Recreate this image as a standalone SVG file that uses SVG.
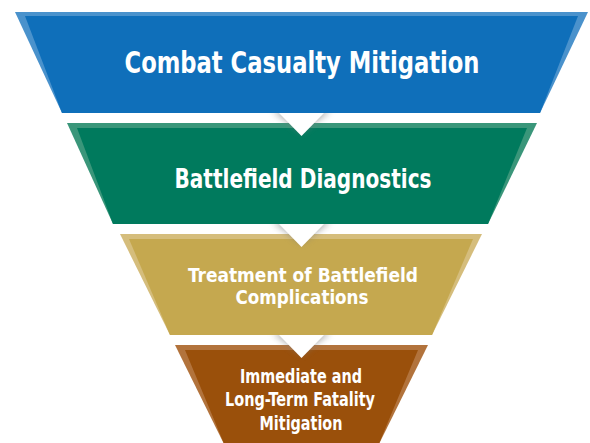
<svg xmlns="http://www.w3.org/2000/svg" width="590" height="443" viewBox="0 0 590 443">
<style>
.lbl{font-family:"Liberation Sans Narrow","DejaVu Sans Condensed","Liberation Sans",sans-serif;font-weight:bold;fill:#ffffff;text-anchor:middle}
.notch{fill:#ffffff}
.shadow{fill:#7a7a7a;opacity:0.55;filter:url(#blur)}
</style>
<defs>
<filter id="blur" x="-30%" y="-30%" width="160%" height="160%"><feGaussianBlur stdDeviation="3"/></filter>
<clipPath id="c1"><rect x="250" y="113" width="100" height="40"/></clipPath>
<clipPath id="c2"><rect x="250" y="224" width="100" height="40"/></clipPath>
<clipPath id="c3"><rect x="250" y="335" width="100" height="40"/></clipPath>
</defs>
<rect width="590" height="443" fill="#ffffff"/>
<g id="band1">
<polygon points="15,12 588,12 540,113 62,113" fill="#4a92cc"/>
<polygon points="25,16 578,16 540,113 62,113" fill="#0f6fba"/>
<text class="lbl" x="302" y="73" font-size="31" textLength="355" lengthAdjust="spacingAndGlyphs">Combat Casualty Mitigation</text>
</g>
<g id="band2">
<polygon points="67,123 537,123 488,224 113,224" fill="#3a967a"/>
<polygon points="77,128 527,128 488,224 113,224" fill="#007a5d"/>
<text class="lbl" x="303" y="188" font-size="27" textLength="257" lengthAdjust="spacingAndGlyphs">Battlefield Diagnostics</text>
</g>
<g id="band3">
<polygon points="120,234 482,234 432,335 170,335" fill="#d5bd7c"/>
<polygon points="129,239 473,239 432,335 170,335" fill="#c5a84f"/>
<text class="lbl" x="303" y="281.5" font-size="19.5" textLength="230" lengthAdjust="spacingAndGlyphs">Treatment of Battlefield</text>
<text class="lbl" x="302" y="303.5" font-size="19.5" textLength="133" lengthAdjust="spacingAndGlyphs">Complications</text>
</g>
<g id="band4">
<polygon points="175,345 428,345 378,446 225,446" fill="#b2733c"/>
<polygon points="185,350 418,350 378,446 225,446" fill="#9a500b"/>
<text class="lbl" x="301" y="383" font-size="19" textLength="122" lengthAdjust="spacingAndGlyphs">Immediate and</text>
<text class="lbl" x="300" y="406" font-size="19" textLength="150" lengthAdjust="spacingAndGlyphs">Long-Term Fatality</text>
<text class="lbl" x="301" y="430" font-size="19" textLength="83" lengthAdjust="spacingAndGlyphs">Mitigation</text>
</g>
<g id="connectors">
<g clip-path="url(#c1)"><polygon class="shadow" points="272,111 331,111 301.5,133"/></g>
<polygon class="notch" points="279,113 324,113 301.5,136"/>
<g clip-path="url(#c2)"><polygon class="shadow" points="272,222 331,222 301.5,244"/></g>
<polygon class="notch" points="279,224 324,224 301.5,247"/>
<g clip-path="url(#c3)"><polygon class="shadow" points="272,333 331,333 301.5,355"/></g>
<polygon class="notch" points="279,335 324,335 301.5,358"/>
</g>
</svg>
